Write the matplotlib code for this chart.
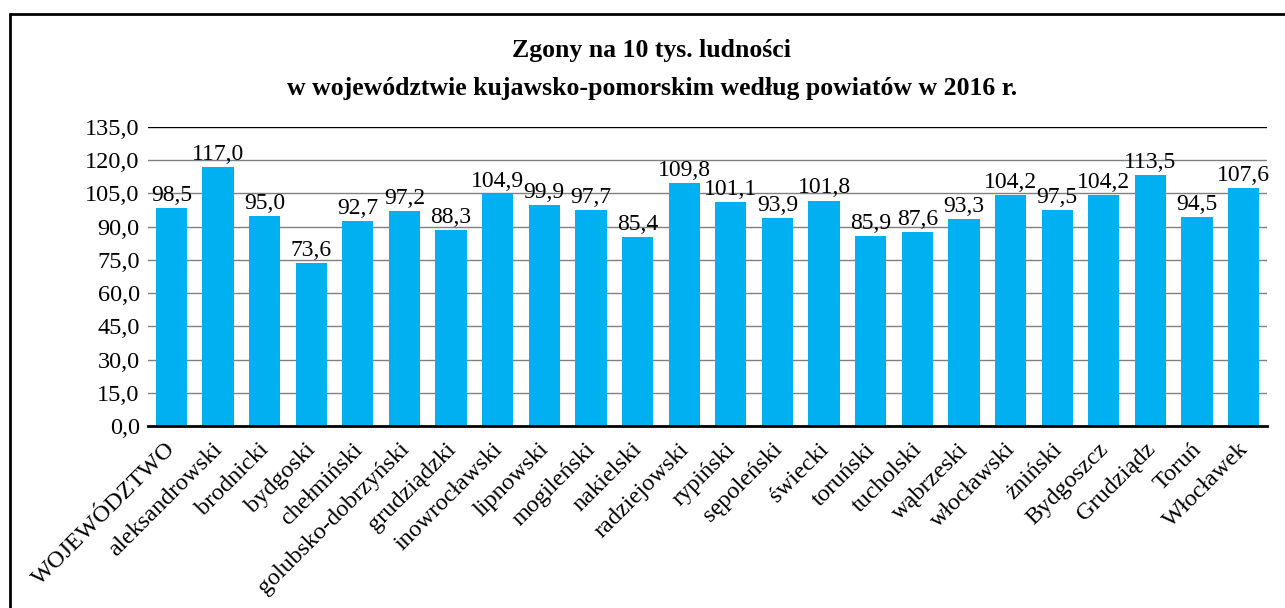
import matplotlib.pyplot as plt
import matplotlib.transforms as mtransforms
import numpy as np
from matplotlib.patches import Rectangle

# --- DANE ---
powiaty = ["WOJEWÓDZTWO", "aleksandrowski", "brodnicki", "bydgoski", "chełmiński",
           "golubsko-dobrzyński", "grudziądzki", "inowrocławski", "lipnowski",
           "mogileński", "nakielski", "radziejowski", "rypiński", "sępoleński",
           "świecki", "toruński", "tucholski", "wąbrzeski", "włocławski", "żniński",
           "Bydgoszcz", "Grudziądz", "Toruń", "Włocławek"]
zgony = [98.5, 117.0, 95.0, 73.6, 92.7, 97.2, 88.3, 104.9, 99.9, 97.7, 85.4, 109.8,
         101.1, 93.9, 101.8, 85.9, 87.6, 93.3, 104.2, 97.5, 104.2, 113.5, 94.5, 107.6]
y_ticks = [0, 15, 30, 45, 60, 75, 90, 105, 120, 135]

plt.rcParams['font.family'] = ['Liberation Serif', 'DejaVu Serif']


def pl(v):
    # przecinek dziesiętny
    return f"{v:.1f}".replace('.', ',')


fig = plt.figure(figsize=(12.85, 6.08), dpi=100)
ax = fig.add_axes([148 / 1285, 1 - 426 / 608, (1267 - 148) / 1285, (426 - 127) / 608])

x = np.arange(len(powiaty))
bars = ax.bar(x, zgony, width=0.67, color='#00B0F0', zorder=3)

for b, v in zip(bars, zgony):
    ax.annotate(pl(v), (b.get_x() + b.get_width() / 2, v), xytext=(0, 1.5),
                textcoords='offset points', ha='center', va='bottom', fontsize=17, zorder=4)

ax.set_xlim(-0.5, len(powiaty) - 0.5)
ax.set_ylim(0, 135)
ax.set_yticks(y_ticks)
ax.set_yticklabels([pl(t) for t in y_ticks], fontsize=17.5)
ax.set_xticks(x)
ax.set_xticklabels(powiaty, rotation=45, ha='right', va='top', rotation_mode='anchor', fontsize=17.5)
ax.tick_params(axis='both', length=0)
ax.tick_params(axis='y', pad=6)
ax.tick_params(axis='x', pad=5)

# przesunięcie etykiet osi X
przes = mtransforms.ScaledTranslation(-6 / 100, -6 / 100, fig.dpi_scale_trans)
for lab in ax.get_xticklabels():
    lab.set_transform(lab.get_transform() + przes)

for t in y_ticks[1:]:
    ax.axhline(t, color='#000000' if t == 135 else '#808080', lw=1, zorder=1)

for s in ['top', 'right', 'left']:
    ax.spines[s].set_visible(False)
ax.spines['bottom'].set_linewidth(2)
ax.spines['bottom'].set_zorder(5)

fig.text(652 / 1285, 1 - 51 / 608, "Zgony na 10 tys. ludności", ha='center', va='center',
         fontsize=18.5, fontweight='bold')
fig.text(652 / 1285, 1 - 89 / 608, "w województwie kujawsko-pomorskim według powiatów w 2016 r.",
         ha='center', va='center', fontsize=18.5, fontweight='bold')

# ramka
fig.patches.append(Rectangle((10 / 1285, -0.05), 1.1, 1 - 14 / 608 + 0.05,
                             transform=fig.transFigure, fill=False, ec='black', lw=2))

fig.savefig("out.png", dpi=100)
